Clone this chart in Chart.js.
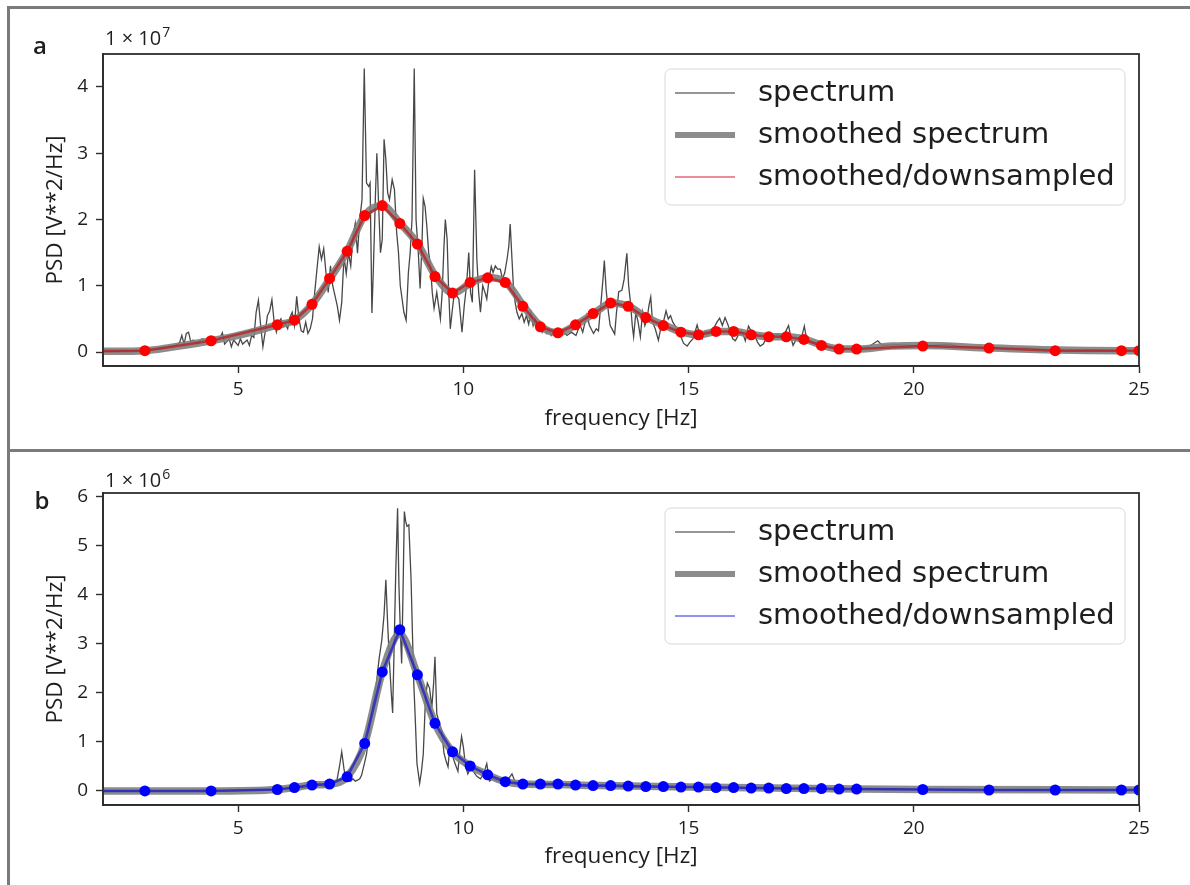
<!DOCTYPE html>
<html>
<head>
<meta charset="utf-8">
<script src="https://cdn.jsdelivr.net/npm/chart.js@4"></script>
<style>
  html, body { margin: 0; padding: 0; background: #fff; }
  #wrap { position: relative; width: 1190px; height: 885px; overflow: hidden; }
  canvas { position: absolute; left: 0; }
  #ca { top: 0; }
  #cb { top: 450px; }
  .rule { position: absolute; background: #7b7b7b; }
</style>
</head>
<body>
<div id="wrap">
  <canvas id="ca" width="1190" height="450"></canvas>
  <canvas id="cb" width="1190" height="435"></canvas>
  <div class="rule" style="left:7px;top:6px;width:1183px;height:3px"></div>
  <div class="rule" style="left:7px;top:6px;width:3px;height:879px"></div>
  <div class="rule" style="left:7px;top:449px;width:1183px;height:3px"></div>
</div>
<script>
// tick labels
const xTicks = [5, 10, 15, 20, 25];
const yTicksA = [0, 1, 2, 3, 4];      // x 1e7
const yTicksB = [0, 1, 2, 3, 4, 5, 6]; // x 1e6

// raw spectrum, panel a  [Hz, PSD / 1e7]
const spectrumA = [
  [2.0, 0.01], [2.3, 0.015], [2.6, 0.02], [2.9, 0.03], [3.2, 0.05], [3.4, 0.07], [3.6, 0.09],
  [3.7, 0.14], [3.75, 0.25], [3.8, 0.12], [3.85, 0.28], [3.9, 0.3], [3.95, 0.15], [4.0, 0.18],
  [4.1, 0.13], [4.2, 0.2], [4.3, 0.16], [4.4, 0.18], [4.5, 0.15], [4.6, 0.22], [4.65, 0.29],
  [4.7, 0.12], [4.8, 0.2], [4.85, 0.08], [4.9, 0.18], [5.0, 0.1], [5.05, 0.2], [5.1, 0.12],
  [5.2, 0.18], [5.25, 0.1], [5.3, 0.25], [5.35, 0.22], [5.4, 0.6], [5.45, 0.78], [5.5, 0.4],
  [5.55, 0.08], [5.6, 0.3], [5.65, 0.55], [5.7, 0.62], [5.75, 0.79], [5.8, 0.45], [5.85, 0.3],
  [5.9, 0.45], [5.95, 0.5], [6.0, 0.38], [6.05, 0.42], [6.1, 0.35], [6.15, 0.52], [6.2, 0.6],
  [6.25, 0.4], [6.3, 0.84], [6.35, 0.5], [6.4, 0.32], [6.45, 0.3], [6.5, 0.45], [6.55, 0.28],
  [6.6, 0.35], [6.65, 0.5], [6.7, 0.9], [6.75, 1.25], [6.8, 1.59], [6.85, 1.4], [6.9, 1.56],
  [6.95, 1.2], [7.0, 0.9], [7.05, 1.3], [7.1, 1.0], [7.15, 0.85], [7.2, 0.7], [7.25, 0.48],
  [7.3, 0.75], [7.35, 1.44], [7.4, 1.18], [7.45, 1.5], [7.5, 1.3], [7.55, 1.75], [7.6, 1.94],
  [7.65, 1.49], [7.7, 2.0], [7.75, 2.3], [7.8, 4.28], [7.85, 2.55], [7.9, 2.5], [7.93, 2.55],
  [7.97, 0.59], [8.0, 1.2], [8.05, 2.4], [8.08, 3.0], [8.12, 2.2], [8.16, 1.5], [8.2, 1.7],
  [8.24, 3.21], [8.28, 2.9], [8.32, 2.4], [8.36, 2.3], [8.42, 2.6], [8.47, 2.45], [8.52, 1.8],
  [8.56, 1.5], [8.6, 1.0], [8.64, 0.8], [8.68, 0.6], [8.73, 0.48], [8.78, 1.2], [8.82, 1.5],
  [8.86, 2.0], [8.91, 4.28], [8.95, 2.0], [9.0, 1.5], [9.04, 0.96], [9.08, 1.6], [9.11, 2.32],
  [9.15, 2.2], [9.19, 1.89], [9.23, 1.5], [9.27, 1.3], [9.31, 0.9], [9.35, 0.66], [9.41, 0.9],
  [9.45, 0.7], [9.49, 0.5], [9.53, 0.9], [9.57, 1.6], [9.6, 2.0], [9.64, 1.7], [9.67, 1.0],
  [9.71, 0.35], [9.75, 0.6], [9.8, 0.9], [9.85, 0.85], [9.9, 0.8], [9.97, 0.3], [10.02, 0.7],
  [10.07, 1.0], [10.12, 1.5], [10.16, 0.9], [10.2, 0.75], [10.25, 2.75], [10.3, 1.4], [10.34, 0.9],
  [10.38, 0.6], [10.43, 1.0], [10.48, 0.9], [10.52, 0.8], [10.57, 1.1], [10.62, 1.29], [10.66, 1.2],
  [10.71, 1.3], [10.76, 1.25], [10.82, 1.25], [10.87, 1.1], [10.92, 1.2], [10.97, 1.4], [11.01, 1.6],
  [11.04, 1.93], [11.08, 1.4], [11.11, 1.0], [11.15, 0.75], [11.19, 0.6], [11.24, 0.5], [11.3, 0.58],
  [11.35, 0.45], [11.4, 0.55], [11.45, 0.42], [11.5, 0.6], [11.55, 0.4], [11.6, 0.5], [11.65, 0.35],
  [11.7, 0.45], [11.75, 0.3], [11.8, 0.38], [11.85, 0.28], [11.9, 0.32], [11.95, 0.25], [12.0, 0.3],
  [12.1, 0.27], [12.2, 0.32], [12.3, 0.25], [12.4, 0.3], [12.5, 0.25], [12.59, 0.41], [12.65, 0.3],
  [12.74, 0.56], [12.8, 0.4], [12.89, 0.28], [12.95, 0.35], [13.0, 0.32], [13.05, 0.7], [13.1, 1.1],
  [13.13, 1.38], [13.17, 0.94], [13.22, 0.6], [13.26, 0.4], [13.3, 0.35], [13.36, 0.27], [13.4, 0.6],
  [13.45, 0.91], [13.52, 0.93], [13.57, 1.1], [13.6, 1.3], [13.63, 1.49], [13.67, 1.0], [13.71, 0.75],
  [13.75, 0.4], [13.78, 0.23], [13.83, 0.6], [13.88, 0.45], [13.93, 0.23], [13.98, 0.6], [14.03, 0.4],
  [14.08, 0.5], [14.12, 0.7], [14.16, 0.83], [14.2, 0.45], [14.26, 0.35], [14.33, 0.18], [14.38, 0.35],
  [14.44, 0.45], [14.5, 0.62], [14.55, 0.5], [14.6, 0.55], [14.65, 0.45], [14.7, 0.4], [14.76, 0.32],
  [14.82, 0.25], [14.89, 0.13], [14.97, 0.09], [15.03, 0.15], [15.1, 0.2], [15.19, 0.41], [15.25, 0.25],
  [15.3, 0.2], [15.37, 0.32], [15.45, 0.3], [15.56, 0.36], [15.63, 0.45], [15.69, 0.51], [15.75, 0.4],
  [15.81, 0.52], [15.87, 0.42], [15.93, 0.3], [15.98, 0.2], [16.04, 0.17], [16.1, 0.25], [16.17, 0.32],
  [16.22, 0.25], [16.26, 0.17], [16.33, 0.39], [16.4, 0.3], [16.47, 0.25], [16.53, 0.15], [16.59, 0.09],
  [16.66, 0.12], [16.72, 0.2], [16.8, 0.22], [16.9, 0.25], [17.0, 0.27], [17.08, 0.2], [17.15, 0.3],
  [17.22, 0.4], [17.28, 0.2], [17.32, 0.1], [17.38, 0.18], [17.45, 0.22], [17.52, 0.25], [17.57, 0.39],
  [17.62, 0.2], [17.7, 0.15], [17.8, 0.12], [17.9, 0.1], [18.0, 0.08], [18.2, 0.06], [18.4, 0.05],
  [18.6, 0.05], [18.8, 0.06], [19.0, 0.08], [19.2, 0.17], [19.3, 0.1], [19.6, 0.11], [20.0, 0.1],
  [20.4, 0.1], [20.8, 0.12], [21.0, 0.08], [21.5, 0.07], [22.0, 0.06], [22.5, 0.06], [23.0, 0.04],
  [23.5, 0.03], [24.0, 0.03], [24.5, 0.02], [25.0, 0.02]
];

// smoothed spectrum, panel a
const smoothA = [
  [2.0, 0.01], [2.93, 0.02], [3.5, 0.07], [4.41, 0.17], [5.0, 0.25], [5.88, 0.41], [6.25, 0.48],
  [6.64, 0.72], [7.04, 1.11], [7.42, 1.52], [7.81, 2.06], [8.2, 2.21], [8.6, 1.94], [8.99, 1.63],
  [9.39, 1.14], [9.78, 0.89], [10.18, 1.05], [10.56, 1.12], [10.95, 1.05], [11.34, 0.69], [11.73, 0.38],
  [12.11, 0.29], [12.5, 0.41], [12.89, 0.58], [13.3, 0.74], [13.67, 0.69], [14.07, 0.52], [14.48, 0.40],
  [14.85, 0.30], [15.24, 0.26], [15.63, 0.31], [16.01, 0.31], [16.42, 0.26], [16.81, 0.23], [17.2, 0.23],
  [17.59, 0.19], [17.97, 0.10], [18.36, 0.045], [18.76, 0.045], [19.5, 0.09], [20.23, 0.1], [21.7, 0.06],
  [23.16, 0.03], [24.63, 0.02], [25.0, 0.02]
];

// raw spectrum, panel b  [Hz, PSD / 1e6]
const spectrumB = [
  [2.0, 0.0], [3.0, 0.0], [4.0, 0.01], [5.0, 0.01], [5.5, 0.02], [5.9, 0.03], [6.2, 0.06],
  [6.4, 0.08], [6.5, 0.05], [6.6, 0.1], [6.7, 0.07], [6.8, 0.15], [6.9, 0.08], [7.0, 0.12],
  [7.1, 0.2], [7.15, 0.15], [7.2, 0.25], [7.25, 0.5], [7.3, 0.8], [7.35, 0.45], [7.38, 0.29],
  [7.45, 0.22], [7.5, 0.2], [7.55, 0.25], [7.6, 0.2], [7.65, 0.22], [7.7, 0.25], [7.74, 0.32],
  [7.8, 0.55], [7.85, 0.75], [7.9, 1.1], [7.96, 1.58], [8.02, 1.9], [8.07, 2.2], [8.13, 2.7],
  [8.19, 3.08], [8.24, 3.6], [8.28, 4.31], [8.32, 3.4], [8.36, 2.62], [8.4, 2.0], [8.43, 1.59],
  [8.46, 2.8], [8.5, 4.5], [8.54, 5.77], [8.57, 4.2], [8.6, 3.3], [8.63, 2.6], [8.66, 4.0],
  [8.69, 5.70], [8.72, 5.5], [8.75, 5.4], [8.79, 5.43], [8.84, 4.3], [8.87, 3.2], [8.9, 2.2],
  [8.94, 1.3], [8.97, 0.56], [9.03, 0.16], [9.07, 0.4], [9.11, 0.75], [9.16, 1.9], [9.2, 2.2],
  [9.25, 2.1], [9.3, 1.7], [9.34, 2.2], [9.37, 2.74], [9.41, 1.58], [9.46, 1.4], [9.52, 1.24],
  [9.57, 0.77], [9.62, 0.6], [9.66, 0.49], [9.7, 0.9], [9.75, 0.75], [9.8, 0.6], [9.84, 0.5],
  [9.88, 0.4], [9.92, 0.8], [9.96, 1.11], [10.0, 0.9], [10.05, 0.5], [10.1, 0.35], [10.15, 0.45],
  [10.22, 0.4], [10.3, 0.3], [10.38, 0.25], [10.45, 0.35], [10.52, 0.56], [10.58, 0.2], [10.65, 0.25],
  [10.75, 0.2], [10.85, 0.22], [10.95, 0.18], [11.08, 0.35], [11.15, 0.18], [11.3, 0.15], [11.5, 0.13],
  [11.7, 0.12], [12.0, 0.14], [12.1, 0.22], [12.2, 0.12], [12.5, 0.1], [13.0, 0.1], [13.5, 0.09],
  [14.0, 0.08], [15.0, 0.07], [16.0, 0.06], [17.0, 0.05], [18.0, 0.04], [19.0, 0.04], [20.0, 0.03],
  [22.0, 0.02], [25.0, 0.02]
];

// smoothed spectrum, panel b
const smoothB = [
  [2.0, 0.0], [2.93, 0.0], [4.4, 0.0], [5.87, 0.03], [6.25, 0.07], [6.64, 0.12], [7.03, 0.14],
  [7.42, 0.29], [7.81, 0.97], [8.2, 2.43], [8.59, 3.2], [8.98, 2.37], [9.37, 1.38], [9.76, 0.8],
  [10.15, 0.51], [10.54, 0.33], [10.93, 0.19], [11.32, 0.14], [12.1, 0.13], [13.0, 0.11],
  [15.0, 0.08], [18.7, 0.04], [20.2, 0.03], [25.0, 0.02]
];

// smoothed/downsampled points (shared frequencies)
const downFreq = [1.45, 2.93, 4.4, 5.87, 6.25, 6.64, 7.03, 7.42, 7.81, 8.2, 8.59, 8.98, 9.37, 9.76,
  10.15, 10.54, 10.93, 11.32, 11.71, 12.1, 12.49, 12.88, 13.27, 13.66, 14.05, 14.44, 14.83, 15.22,
  15.61, 16.0, 16.39, 16.78, 17.17, 17.56, 17.95, 18.34, 18.73, 20.2, 21.67, 23.14, 24.61, 25.0];
const downA = [0.01, 0.02, 0.17, 0.41, 0.48, 0.72, 1.11, 1.52, 2.06, 2.21, 1.94, 1.63, 1.14, 0.89,
  1.05, 1.12, 1.05, 0.69, 0.38, 0.29, 0.41, 0.58, 0.74, 0.69, 0.52, 0.40, 0.30, 0.26,
  0.31, 0.31, 0.26, 0.23, 0.23, 0.19, 0.10, 0.045, 0.045, 0.09, 0.06, 0.02, 0.02, 0.02];
const downB = [0.0, 0.0, 0.0, 0.03, 0.07, 0.12, 0.14, 0.29, 0.97, 2.43, 3.29, 2.37, 1.38, 0.80,
  0.51, 0.33, 0.19, 0.14, 0.14, 0.14, 0.12, 0.11, 0.11, 0.10, 0.09, 0.09, 0.08, 0.08,
  0.07, 0.07, 0.06, 0.06, 0.05, 0.05, 0.05, 0.04, 0.04, 0.03, 0.02, 0.02, 0.02, 0.02];

const TXT = '#1e1e1e';
const AX = '#2e2e2e';

// axes frame, legend box, offset text and panel letter
const panelDecor = {
  id: 'panelDecor',
  afterDatasetsDraw(chart, args, opts) {
    const ctx = chart.ctx;
    const a = chart.chartArea;
    ctx.save();
    ctx.strokeStyle = AX;
    ctx.lineWidth = 1.8;
    ctx.strokeRect(a.left, a.top, a.right - a.left, a.bottom - a.top);

    // legend
    const bx = a.right - 474, by = a.top + 15, bw = 460, bh = 136;
    ctx.beginPath();
    ctx.roundRect(bx, by, bw, bh, 6);
    ctx.fillStyle = 'rgba(255,255,255,0.85)';
    ctx.fill();
    ctx.strokeStyle = '#d8d8d8';
    ctx.lineWidth = 1;
    ctx.stroke();
    ctx.font = '29px "DejaVu Sans"';
    ctx.textBaseline = 'middle';
    ctx.textAlign = 'left';
    chart.data.datasets.forEach((ds, i) => {
      const cy = by + 24 + i * 42;
      ctx.strokeStyle = ds.legendColor || ds.borderColor;
      ctx.lineWidth = ds.legendWidth || ds.borderWidth;
      ctx.beginPath();
      ctx.moveTo(bx + 10, cy);
      ctx.lineTo(bx + 70, cy);
      ctx.stroke();
      ctx.fillStyle = TXT;
      ctx.fillText(ds.label, bx + 93, cy);
    });

    // 1 x 10^n
    ctx.fillStyle = TXT;
    ctx.textBaseline = 'alphabetic';
    ctx.font = '20px "Open Sans"';
    const base = a.top - opts.expGap;
    ctx.fillText('1 × 10', a.left + 2, base);
    const w = ctx.measureText('1 × 10').width;
    ctx.font = '14px "Open Sans"';
    ctx.fillText(String(opts.exp), a.left + 3 + w, base - 8);

    ctx.font = '600 24px "Open Sans"';
    ctx.textAlign = 'center';
    ctx.textBaseline = 'middle';
    ctx.fillText(opts.letter, opts.letterX, opts.letterY);
    ctx.restore();
  }
};

function pairs(arr) {
  return arr.map(p => ({x: p[0], y: p[1]}));
}

function makePanel(id, cfg) {
  const down = downFreq.map((f, i) => ({x: f, y: cfg.down[i]}));
  new Chart(document.getElementById(id), {
    type: 'line',
    data: {
      datasets: [
        {
          label: 'spectrum',
          data: pairs(cfg.spectrum),
          borderColor: 'rgba(0,0,0,0.72)',
          legendColor: 'rgba(0,0,0,0.55)',
          borderWidth: 1.3,
          pointRadius: 0,
          tension: 0,
          clip: 0,
          order: 3
        },
        {
          label: 'smoothed spectrum',
          data: pairs(cfg.smooth),
          borderColor: 'rgba(128,128,128,0.9)',
          borderWidth: 7.5,
          legendWidth: 6,
          pointRadius: 0,
          cubicInterpolationMode: 'monotone',
          clip: 0,
          order: 2
        },
        {
          label: 'smoothed/downsampled',
          data: down,
          borderColor: cfg.lineColor,
          legendColor: cfg.legendColor,
          borderWidth: 2.6,
          legendWidth: 1.6,
          pointRadius: 5.5,
          pointBorderWidth: 0,
          pointBackgroundColor: cfg.dotColor,
          tension: 0,
          clip: 0,
          order: 1
        }
      ]
    },
    options: {
      responsive: false,
      animation: false,
      events: [],
      layout: { padding: { top: cfg.top, right: 51, bottom: cfg.bottom, left: 0 } },
      scales: {
        x: {
          type: 'linear',
          min: 2,
          max: 25,
          afterBuildTicks: s => { s.ticks = xTicks.map(v => ({value: v})); },
          afterFit: s => { s.height = cfg.xHeight; },
          ticks: { color: TXT, font: { family: 'Open Sans', size: 19 }, padding: 5, maxRotation: 0 },
          grid: { drawOnChartArea: false, drawTicks: true, tickLength: 7, color: AX, tickWidth: 1.4 },
          border: { display: true, color: AX, width: 1.8 },
          title: { display: true, text: 'frequency [Hz]', color: TXT,
                   font: { family: 'Open Sans', size: 22.5 }, padding: 0 }
        },
        y: {
          min: cfg.yMin,
          max: cfg.yMax,
          afterBuildTicks: s => { s.ticks = cfg.yTicks.map(v => ({value: v})); },
          afterFit: s => { s.width = 103; },
          ticks: { color: TXT, font: { family: 'Open Sans', size: 19 }, padding: 8 },
          grid: { drawOnChartArea: false, drawTicks: true, tickLength: 7, color: AX, tickWidth: 1.4 },
          border: { display: true, color: AX, width: 1.8 },
          title: { display: true, text: 'PSD [V**2/Hz]', color: TXT,
                   font: { family: 'Open Sans', size: 22.5 }, padding: { top: 42, bottom: 42 } }
        }
      },
      plugins: {
        legend: { display: false },
        tooltip: { enabled: false },
        panelDecor: { exp: cfg.exp, expGap: cfg.expGap, letter: cfg.letter,
                      letterX: cfg.letterX, letterY: cfg.letterY }
      }
    },
    plugins: [panelDecor]
  });
}

makePanel('ca', {
  spectrum: spectrumA, smooth: smoothA, down: downA,
  lineColor: 'rgba(200,0,0,0.6)', legendColor: 'rgba(210,40,60,0.7)', dotColor: '#ff0000',
  yMin: -0.211, yMax: 4.498, yTicks: yTicksA,
  top: 54, bottom: 18, xHeight: 66,
  exp: 7, expGap: 9, letter: 'a', letterX: 40, letterY: 47
});

makePanel('cb', {
  spectrum: spectrumB, smooth: smoothB, down: downB,
  lineColor: 'rgba(0,0,220,0.6)', legendColor: 'rgba(60,60,230,0.75)', dotColor: '#0000ff',
  yMin: -0.286, yMax: 6.08, yTicks: yTicksB,
  top: 43, bottom: 15, xHeight: 65,
  exp: 6, expGap: 6, letter: 'b', letterX: 42, letterY: 52
});
</script>
</body>
</html>
